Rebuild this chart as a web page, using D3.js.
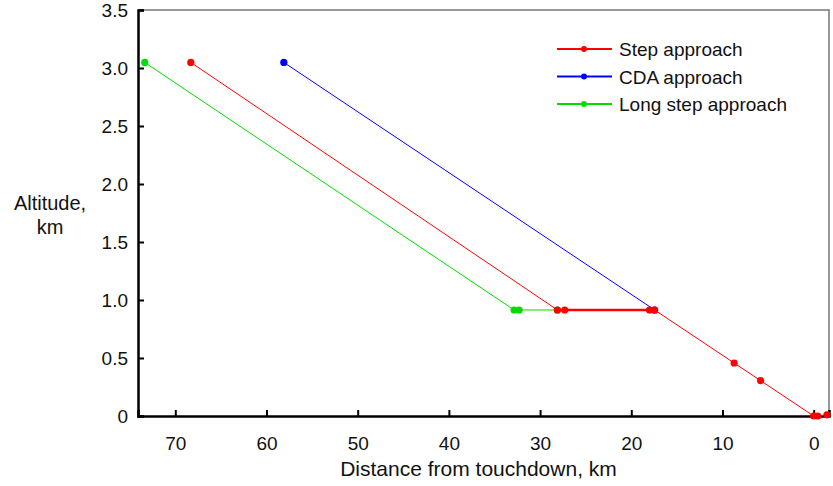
<!DOCTYPE html>
<html>
<head>
<meta charset="utf-8">
<script src="https://cdn.jsdelivr.net/npm/d3@7"></script>
<style>
  body { margin: 0; background: #fff; }
  text { font-family: "Liberation Sans", Arial, sans-serif; fill: #111; }
</style>
</head>
<body>
<div id="chart"></div>
<script>
// approach profiles: [distance from touchdown (km), altitude (km)]
var stepApproach = [[68.3, 3.048], [28.1, 0.914], [27.3, 0.914], [18.0, 0.914], [17.44, 0.914],
                    [8.72, 0.457], [5.82, 0.305], [0, 0], [-0.45, 0], [-1.45, 0.01]];
var cdaApproach = [[58.1, 3.048], [17.44, 0.914]];
var longStepApproach = [[73.35, 3.048], [32.85, 0.914], [32.3, 0.914], [28.1, 0.914]];

var seriesNames = ["Step approach", "CDA approach", "Long step approach"];
var seriesColors = ["#ff0000", "#0000ff", "#00dd00"];

var xTicks = [70, 60, 50, 40, 30, 20, 10, 0];
var yTicks = [0, 0.5, 1.0, 1.5, 2.0, 2.5, 3.0, 3.5];

var margin = {top: 10, right: 4, bottom: 70, left: 138};
var width = 833 - margin.left - margin.right;
var height = 486 - margin.top - margin.bottom;

var svg = d3.select("#chart")
  .append("svg")
  .attr("width", 833)
  .attr("height", 486)
  .append("g")
  .attr("transform", "translate(" + margin.left + "," + margin.top + ")");

var x = d3.scaleLinear().domain([74.09, -1.68]).range([0, width]);
var y = d3.scaleLinear().domain([0, 3.5]).range([height, 0]);

// top and right frame
svg.append("path")
  .attr("d", "M0,0H" + width + "V" + height)
  .attr("fill", "none")
  .attr("stroke", "#777")
  .attr("stroke-width", 1.5);

// axes with inward ticks
var xAxis = svg.append("g")
  .attr("transform", "translate(0," + height + ")")
  .call(d3.axisBottom(x).tickValues(xTicks).tickSize(-6).tickPadding(21).tickFormat(d3.format("d")));
var yAxis = svg.append("g")
  .call(d3.axisLeft(y).tickValues(yTicks).tickSize(-6).tickPadding(10)
    .tickFormat(function(d) { return d === 0 ? "0" : d3.format(".1f")(d); }));

[xAxis, yAxis].forEach(function(a) {
  a.select(".domain").attr("stroke", "#000").attr("stroke-width", 2.5);
  a.selectAll(".tick line").attr("stroke", "#000").attr("stroke-width", 2);
  a.selectAll(".tick text").style("font-size", "19px").attr("fill", "#111");
});

svg.append("text")
  .attr("x", (x(74.09) + x(-1.68)) / 2 - 5)
  .attr("y", height + 60)
  .attr("text-anchor", "middle")
  .style("font-size", "21px")
  .text("Distance from touchdown, km");

var yTitle = svg.append("text")
  .attr("text-anchor", "middle")
  .style("font-size", "20px");
yTitle.append("tspan").attr("x", -88).attr("y", 200).text("Altitude,");
yTitle.append("tspan").attr("x", -88).attr("y", 224).text("km");

var line = d3.line().x(function(d) { return x(d[0]); }).y(function(d) { return y(d[1]); });

var allSeries = [stepApproach, cdaApproach, longStepApproach];
var drawOrder = [2, 1, 0];

drawOrder.forEach(function(i) {
  var data = allSeries[i];
  svg.append("path")
    .datum(data)
    .attr("fill", "none")
    .attr("stroke", seriesColors[i])
    .attr("stroke-width", 1)
    .attr("d", line);
  if (i === 0) {
    // level segment of the step approach drawn heavier
    var level = data.filter(function(d) { return d[1] === 0.914; });
    svg.append("path")
      .datum(level)
      .attr("fill", "none")
      .attr("stroke", seriesColors[i])
      .attr("stroke-width", 2.5)
      .attr("d", line);
  }
  svg.selectAll(null)
    .data(data)
    .enter()
    .append("circle")
    .attr("cx", function(d) { return x(d[0]); })
    .attr("cy", function(d) { return y(d[1]); })
    .attr("r", 3.6)
    .attr("fill", seriesColors[i]);
});

// legend
var legend = svg.append("g").attr("transform", "translate(419,39)");
seriesNames.forEach(function(name, i) {
  var g = legend.append("g").attr("transform", "translate(0," + (i * 27.5) + ")");
  g.append("line").attr("x1", 0).attr("x2", 55).attr("y1", 0).attr("y2", 0)
    .attr("stroke", seriesColors[i]).attr("stroke-width", 2);
  g.append("circle").attr("cx", 27).attr("cy", 0).attr("r", 3).attr("fill", seriesColors[i]);
  g.append("text").attr("x", 62).attr("y", 7).style("font-size", "19px").text(name);
});
</script>
</body>
</html>
